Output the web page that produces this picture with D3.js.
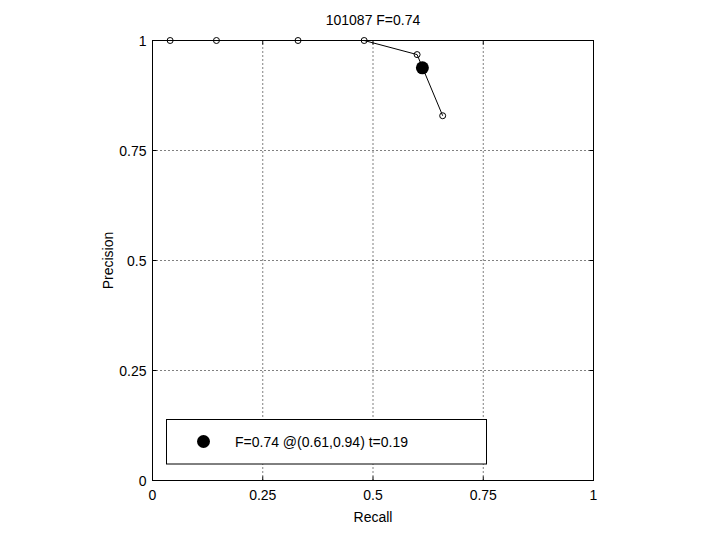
<!DOCTYPE html>
<html><head><meta charset="utf-8">
<script src="https://cdn.jsdelivr.net/npm/d3@7"></script>
<style>body{margin:0;background:#fff}text{font-family:"Liberation Sans",Arial,sans-serif;font-size:14px;fill:#000}</style>
</head><body>
<script>
const recall = [0.04, 0.145, 0.33, 0.48, 0.60, 0.658];
const precision = [1, 1, 1, 1, 0.968, 0.829];
const best = {r: 0.612, p: 0.938};
const ticks = [0, 0.25, 0.5, 0.75, 1];
const tickLabels = ["0", "0.25", "0.5", "0.75", "1"];
const title = "101087 F=0.74";
const legendText = "F=0.74 @(0.61,0.94) t=0.19";

const W = 720, H = 540;
const svg = d3.select("body").append("svg").attr("width", W).attr("height", H);
const x = d3.scaleLinear().domain([0, 1]).range([152.5, 593.5]);
const y = d3.scaleLinear().domain([0, 1]).range([480.5, 40.5]);

// grid
const g = svg.append("g");
ticks.slice(1, 4).forEach(t => {
  g.append("line").attr("x1", x(t)).attr("x2", x(t)).attr("y1", y(0)).attr("y2", y(1))
    .attr("stroke", "#000").attr("stroke-width", 1).attr("stroke-dasharray", "1,3");
  g.append("line").attr("y1", y(t)).attr("y2", y(t)).attr("x1", x(0)).attr("x2", x(1))
    .attr("stroke", "#000").attr("stroke-width", 1).attr("stroke-dasharray", "1,3");
});
// box
svg.append("rect").attr("x", x(0)).attr("y", y(1)).attr("width", x(1) - x(0)).attr("height", y(0) - y(1))
  .attr("fill", "none").attr("stroke", "#000");
// tick marks inward
ticks.forEach(t => {
  svg.append("line").attr("x1", x(t)).attr("x2", x(t)).attr("y1", y(0)).attr("y2", y(0) - 4).attr("stroke", "#000");
  svg.append("line").attr("x1", x(t)).attr("x2", x(t)).attr("y1", y(1)).attr("y2", y(1) + 4).attr("stroke", "#000");
  svg.append("line").attr("y1", y(t)).attr("y2", y(t)).attr("x1", x(0)).attr("x2", x(0) + 4).attr("stroke", "#000");
  svg.append("line").attr("y1", y(t)).attr("y2", y(t)).attr("x1", x(1)).attr("x2", x(1) - 4).attr("stroke", "#000");
});
// axes labels
ticks.forEach((t, i) => {
  svg.append("text").attr("x", x(t)).attr("y", y(0) + 19).attr("text-anchor", "middle").text(tickLabels[i]);
  svg.append("text").attr("x", x(0) - 6).attr("y", y(t) + 5).attr("text-anchor", "end").text(tickLabels[i]);
});
svg.append("text").attr("x", (x(0) + x(1)) / 2).attr("y", 522).attr("text-anchor", "middle").text("Recall");
svg.append("text").attr("transform", `translate(113,${(y(0) + y(1)) / 2}) rotate(-90)`).attr("text-anchor", "middle").text("Precision");
svg.append("text").attr("x", (x(0) + x(1)) / 2).attr("y", 25).attr("text-anchor", "middle").text(title);

// curve
const pts = recall.map((r, i) => [r, precision[i]]);
svg.append("path").attr("d", d3.line().x(d => x(d[0])).y(d => y(d[1]))(pts))
  .attr("fill", "none").attr("stroke", "#000").attr("stroke-width", 1);
svg.selectAll("circle.pt").data(pts).enter().append("circle").attr("class", "pt")
  .attr("cx", d => x(d[0])).attr("cy", d => y(d[1])).attr("r", 3)
  .attr("fill", "none").attr("stroke", "#000").attr("stroke-width", 1);
svg.append("circle").attr("cx", x(best.r)).attr("cy", y(best.p)).attr("r", 6.5).attr("fill", "#000");

// legend
svg.append("rect").attr("x", 166.5).attr("y", 419.5).attr("width", 320).attr("height", 44.5)
  .attr("fill", "#fff").attr("stroke", "#000");
svg.append("circle").attr("cx", 203.5).attr("cy", 441.5).attr("r", 6.5).attr("fill", "#000");
svg.append("text").attr("x", 235).attr("y", 446.5).text(legendText);
</script>
</body></html>
